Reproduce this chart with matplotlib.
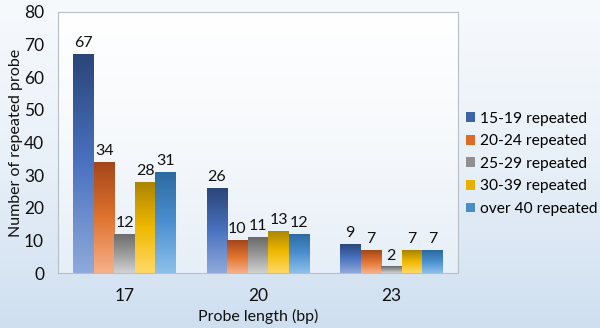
import numpy as np
import matplotlib
matplotlib.use("Agg")
import matplotlib.pyplot as plt
from matplotlib.colors import LinearSegmentedColormap
from matplotlib.patches import Patch

plt.rcParams['font.family'] = ['Lato', 'DejaVu Sans']

# data
lengths = ["17", "20", "23"]
series = ["15-19 repeated", "20-24 repeated", "25-29 repeated",
          "30-39 repeated", "over 40 repeated"]
r15_19 = [67, 26, 9]
r20_24 = [34, 10, 7]
r25_29 = [12, 11, 2]
r30_39 = [28, 13, 7]
r40_up = [31, 12, 7]
values = [r15_19, r20_24, r25_29, r30_39, r40_up]

# gradient stops top -> bottom for each series
grads = [
    ["#2a4679", "#4a72c0", "#8fa9da"],
    ["#a4461a", "#e0732e", "#f6b08a"],
    ["#6a6a6a", "#9a9a9a", "#d2d2d2"],
    ["#a98400", "#f0b800", "#ffd966"],
    ["#2c6aa0", "#4b8fd0", "#8cc0ea"],
]
legend_cols = ["#3f63a8", "#dc6a28", "#909090", "#e8b000", "#4a8cc8"]

fig = plt.figure(figsize=(6, 3.28), dpi=100)

# figure background gradient
bg = fig.add_axes([0, 0, 1, 1])
bg_cmap = LinearSegmentedColormap.from_list("bg", ["#f7fafd", "#e8f0f8", "#cfdff0"])
bg.imshow(np.linspace(0, 1, 256).reshape(-1, 1), aspect="auto", cmap=bg_cmap,
          extent=[0, 1, 0, 1], origin="upper")
bg.axis("off")

ax = fig.add_axes([58 / 600, 1 - 273 / 328, 400 / 600, 261 / 328])
ax.set_facecolor("none")
ax_bg = LinearSegmentedColormap.from_list("axbg", ["#ffffff", "#f6f9fc", "#e6eef7"])

x = np.arange(len(lengths))
width = 0.154
ax.set_xlim(-0.5, 2.5)
ax.set_ylim(0, 80)
ax.imshow(np.linspace(0, 1, 256).reshape(-1, 1), aspect="auto", cmap=ax_bg,
          extent=[-0.5, 2.5, 0, 80], origin="upper", zorder=0)

for i, (vals, g) in enumerate(zip(values, grads)):
    cmap = LinearSegmentedColormap.from_list("s%d" % i, g)
    pos = x + (i - 2) * width
    bars = ax.bar(pos, vals, width, color="none", edgecolor="none", zorder=2)
    for b, v in zip(bars, vals):
        x0 = b.get_x()
        im = ax.imshow(np.linspace(0, 1, 128).reshape(-1, 1), aspect="auto", cmap=cmap,
                       extent=[x0, x0 + b.get_width(), 0, v], origin="upper", zorder=2)
        im.set_clip_path(b)
        ax.text(x0 + b.get_width() / 2, v + 1.2, str(v), ha="center", va="bottom",
                fontsize=11.5, color="#111111", zorder=3)

ax.set_xlim(-0.5, 2.5)
ax.set_ylim(0, 80)
ax.set_xticks(x)
ax.set_xticklabels(lengths)
ax.set_yticks(range(0, 81, 10))
ax.tick_params(length=0, labelsize=12.5, colors="#111111")
ax.tick_params(axis="y", pad=10)
ax.tick_params(axis="x", pad=11)
for s in ax.spines.values():
    s.set_color("#b8bec6")
    s.set_linewidth(0.8)

ax.set_ylabel("Number of repeated probe", fontsize=11.5, color="#111111")
ax.yaxis.set_label_coords(-0.088, 0.5)
ax.set_xlabel("Probe length (bp)", fontsize=11.5, color="#111111", labelpad=3)

handles = [Patch(facecolor=c, edgecolor="none", label=s)
           for c, s in zip(legend_cols, series)]
ax.legend(handles=handles, loc="center left", bbox_to_anchor=(1.0, 0.418), frameon=False,
          fontsize=11.2, handlelength=0.6, handleheight=0.6, handletextpad=0.3,
          labelspacing=0.55, borderaxespad=0.3, borderpad=0.2)

fig.savefig("out.png", dpi=100)
